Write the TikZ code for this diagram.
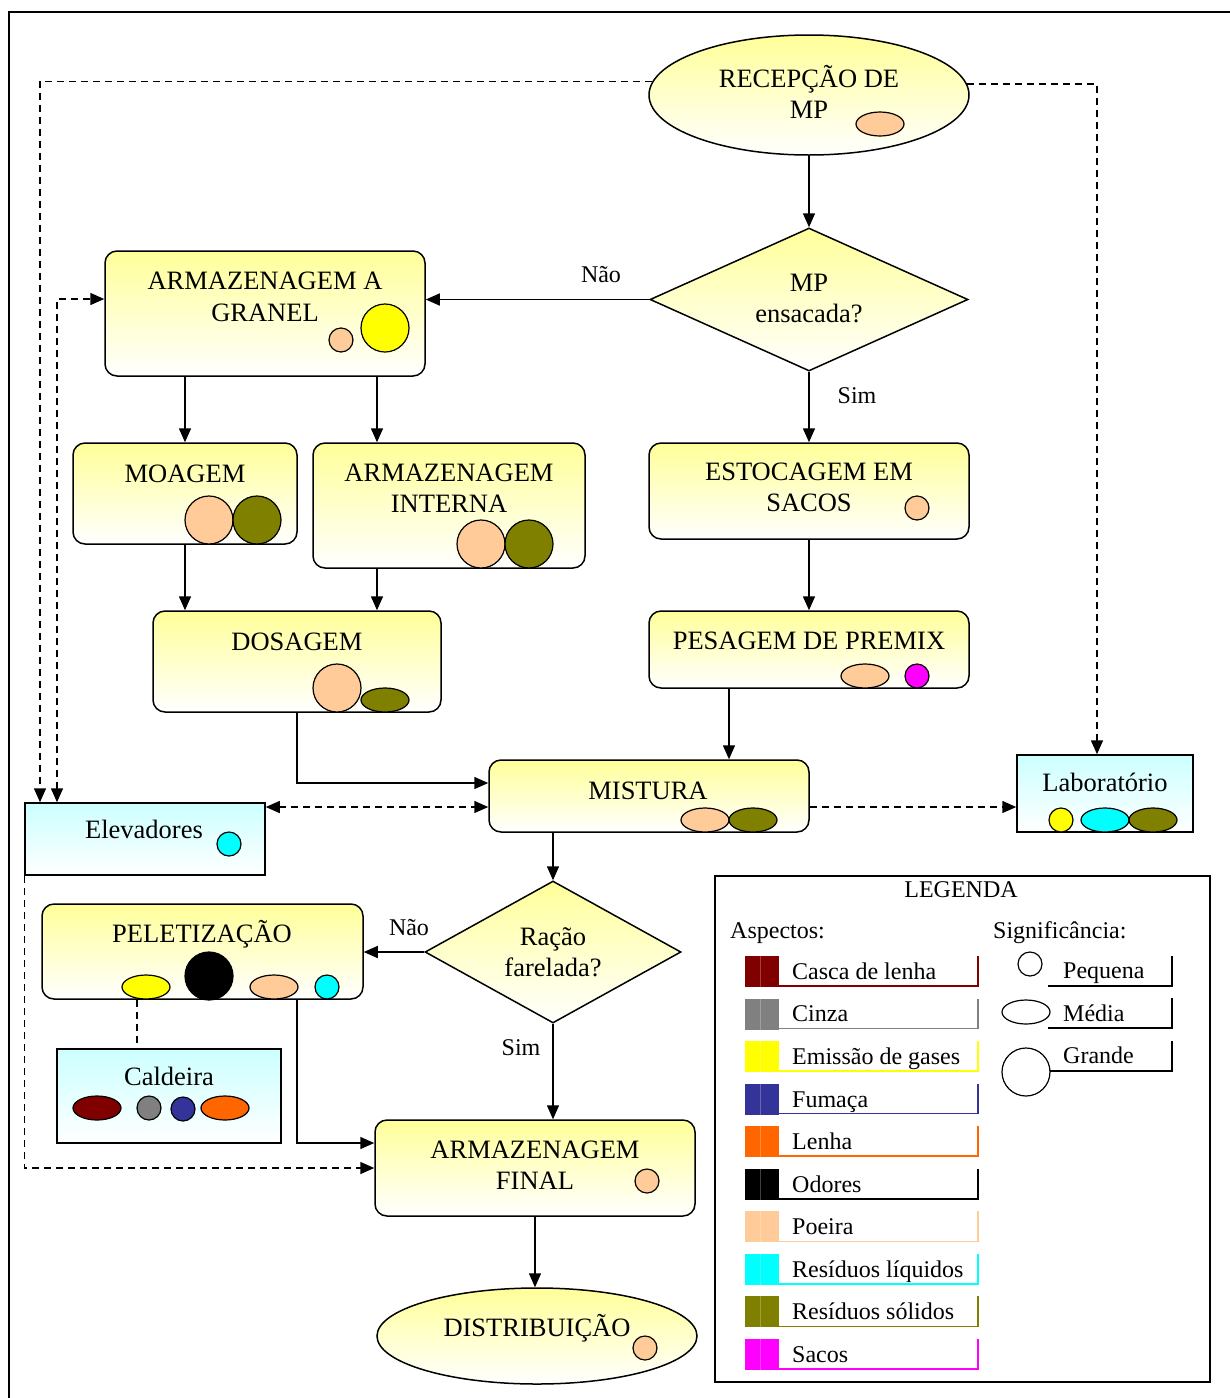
\documentclass[tikz,border=0pt]{standalone}
\usepackage{fontspec}
\setmainfont{Liberation Serif}
\usetikzlibrary{arrows.meta,shapes.geometric,calc}
\definecolor{yfill}{HTML}{FFFF99}
\definecolor{cfill}{HTML}{CCFFFF}
\definecolor{poeira}{HTML}{FFCC99}
\definecolor{olive2}{HTML}{808000}
\definecolor{casca}{HTML}{800000}
\definecolor{cinza}{HTML}{808080}
\definecolor{fumaca}{HTML}{333399}
\definecolor{lenha}{HTML}{FF6600}
\definecolor{aqua}{HTML}{00FFFF}
\definecolor{mag}{HTML}{FF00FF}
\definecolor{gas}{HTML}{FFFF00}
\begin{document}
\begin{tikzpicture}[x=1pt,y=-1pt,
  ln/.style={line width=1.5pt},
  arr/.style={ln,-{Triangle[length=14pt,width=12pt]}},
  darr/.style={ln,{Triangle[length=14pt,width=12pt]}-{Triangle[length=14pt,width=12pt]}},
  dsh/.style={dash pattern=on 7pt off 5pt},
  ybox/.style={draw,ln,rounded corners=12pt,top color=yfill,bottom color=white,inner sep=0pt},
  cbox/.style={draw,ln,top color=cfill,bottom color=white,inner sep=0pt},
  yell/.style={draw,ln,ellipse,top color=yfill,bottom color=white,inner sep=0pt},
  ydia/.style={draw,ln,diamond,top color=yfill,bottom color=white,inner sep=0pt},
  txt/.style={font=\fontsize{26.5}{31.5}\selectfont,align=center,inner sep=0pt,execute at begin node=\strut},
  stxt/.style={font=\fontsize{24}{28}\selectfont,inner sep=0pt,execute at begin node=\strut},
  mk/.style={draw,line width=1.2pt,inner sep=0pt},
  sml/.style={mk,circle,minimum size=24pt},
  med/.style={mk,ellipse,minimum width=48pt,minimum height=24pt},
  big/.style={mk,circle,minimum size=48pt}
]
\useasboundingbox (0,0) rectangle (1230,1398);
\draw[ln] (1230,12) -- (9,12) -- (9,1398);

% ---- process nodes ----
\node[yell,minimum width=320pt,minimum height=120pt] (recep) at (809,95) {};
\node[txt] (recepT) at (809,96.5) {RECEPÇÃO DE\\\strut MP};
\node[med,fill=poeira] (m1) at (880,124) {};

\node[ydia,minimum width=318pt,minimum height=143pt] (q1) at (809,299.5) {};
\node[txt] (q1T) at (809,303) {MP\\\strut ensacada?};

\node[ybox,minimum width=320pt,minimum height=125pt] (granel) at (265,313.5) {};
\node[txt] (granelT) at (265,301.5) {ARMAZENAGEM A\\\strut GRANEL};
\node[sml,fill=poeira] (m2) at (341,340) {};
\node[big,fill=gas] (m3) at (385,328) {};

\node[ybox,minimum width=224pt,minimum height=101pt] (moag) at (185,493.5) {};
\node[txt] (moagT) at (185,476.5) {MOAGEM};
\node[big,fill=poeira] (m4) at (209,520) {};
\node[big,fill=olive2] (m5) at (257,520) {};

\node[ybox,minimum width=272pt,minimum height=125pt] (inter) at (449,505.5) {};
\node[txt] (interT) at (449,493) {ARMAZENAGEM\\\strut INTERNA};
\node[big,fill=poeira] (m6) at (481,544) {};
\node[big,fill=olive2] (m7) at (529,544) {};

\node[ybox,minimum width=320pt,minimum height=96pt] (est) at (809,491) {};
\node[txt] (estT) at (809,492) {ESTOCAGEM EM\\\strut SACOS};
\node[sml,fill=poeira] (m8) at (917,508) {};

\node[ybox,minimum width=288pt,minimum height=101pt] (dos) at (297,661.5) {};
\node[txt] (dosT) at (297,644.5) {DOSAGEM};
\node[big,fill=poeira] (m9) at (337,688) {};
\node[med,fill=olive2] (m10) at (385,700) {};

\node[ybox,minimum width=320pt,minimum height=77pt] (pes) at (809,649.5) {};
\node[txt] (pesT) at (809,643.5) {PESAGEM DE PREMIX};
\node[med,fill=poeira] (m11) at (865,676) {};
\node[sml,fill=mag] (m12) at (917,676) {};

\node[ybox,minimum width=320pt,minimum height=72pt] (mist) at (649,796) {};
\node[txt] (mistT) at (648,793.5) {MISTURA};
\node[med,fill=poeira] (m13) at (705,820) {};
\node[med,fill=olive2] (m14) at (753,820) {};

\node[cbox,minimum width=240pt,minimum height=72pt] (elev) at (145,839) {};
\node[txt] (elevT) at (144,832.5) {Elevadores};
\node[sml,fill=aqua] (m15) at (229,844) {};

\node[cbox,minimum width=176pt,minimum height=77pt] (lab) at (1105,793.5) {};
\node[txt] (labT) at (1105,785) {Laboratório};
\node[sml,fill=gas] (m16) at (1061,820) {};
\node[med,fill=aqua] (m17) at (1105,820) {};
\node[med,fill=olive2] (m18) at (1153,820) {};

\node[ydia,minimum width=256pt,minimum height=142pt] (q2) at (553,952) {};
\node[txt] (q2T) at (553,957) {Ração\\\strut farelada?};

\node[ybox,minimum width=321pt,minimum height=95pt] (pel) at (202.5,951.5) {};
\node[txt] (pelT) at (202,936.5) {PELETIZAÇÃO};
\node[med,fill=gas] (m19) at (146,987) {};
\node[big,fill=black] (m20) at (209,976) {};
\node[med,fill=poeira] (m21) at (274,987) {};
\node[sml,fill=aqua] (m22) at (327,987) {};

\node[cbox,minimum width=224pt,minimum height=94pt] (cald) at (169,1096) {};
\node[txt] (caldT) at (169,1079) {Caldeira};
\node[med,fill=casca] (m23) at (97,1108) {};
\node[sml,fill=cinza] (m24) at (149,1108) {};
\node[sml,fill=fumaca] (m25) at (183,1109) {};
\node[med,fill=lenha] (m26) at (225,1108) {};

\node[ybox,minimum width=320pt,minimum height=96pt] (final) at (535,1168) {};
\node[txt] (finalT) at (535,1170) {ARMAZENAGEM\\\strut FINAL};
\node[sml,fill=poeira] (m27) at (647,1181) {};

\node[yell,minimum width=320pt,minimum height=96pt] (dist) at (537,1336) {};
\node[txt] (distT) at (537,1330.5) {DISTRIBUIÇÃO};
\node[sml,fill=poeira] (m28) at (645,1348) {};

% ---- labels ----
\node[stxt] (l1) at (601,277.3) {Não};
\node[stxt] (l2) at (857,398.3) {Sim};
\node[stxt] (l3) at (409,930.3) {Não};
\node[stxt] (l4) at (521,1050.3) {Sim};

% ---- helper coordinates ----
\coordinate (xL1) at (40,0);
\coordinate (xL2) at (57,0);
\coordinate (xR) at (1097,0);
\coordinate (yG) at (0,299);
\coordinate (yM) at (0,807);
\coordinate (yD) at (0,783);
\coordinate (xI) at (377,0);
\coordinate (xP) at (729,0);
\coordinate (xQ) at (553,0);
\coordinate (xC) at (137,0);
\coordinate (xF) at (297,0);
\coordinate (yF) at (0,1143);

% ---- solid connectors ----
\draw[arr] (recep.south) -- (q1.north);
\draw[arr] (q1.west) -- (granel.east |- q1.west);
\draw[arr] (q1.south) -- (est.north);
\draw[arr] (moag.north |- granel.south) -- (moag.north);
\draw[arr] (xI |- granel.south) -- (xI |- inter.north);
\draw[arr] (moag.south) -- (moag.south |- dos.north);
\draw[arr] (xI |- inter.south) -- (xI |- dos.north);
\draw[arr] (dos.south) |- (mist.west |- yD);
\draw[arr] (est.south) -- (pes.north);
\draw[arr] (xP |- pes.south) -- (xP |- mist.north);
\draw[arr] (xQ |- mist.south) -- (q2.north);
\draw[arr] (q2.west) -- (pel.east |- q2.west);
\draw[arr] (q2.south) -- (q2.south |- final.north);
\draw[arr] (xF |- pel.south) |- (final.west |- yF);
\draw[arr] (final.south) -- (final.south |- dist.north);

% ---- dashed connectors ----
\draw[arr,dsh] (recep.175.6) -| (xL1 |- elev.north);
\draw[arr,dsh] (recep.4.4) -| (xR |- lab.north);
\draw[darr,dsh] (xL2 |- elev.north) |- (granel.west |- yG);
\draw[darr,dsh] (elev.east |- yM) -- (mist.west |- yM);
\draw[arr,dsh] (mist.east |- yM) -- (lab.west |- yM);
\draw[arr,dsh] (elev.south west) |- (final.west);
\draw[ln,dsh] (xC |- pel.south) -- (xC |- cald.north);

% ---- legend ----
\node[draw,line width=1.8pt,minimum width=495pt,minimum height=506pt,inner sep=0pt] (leg) at (962.5,1129) {};
\node[stxt] (legT) at (961,892.3) {LEGENDA};
\node[stxt,anchor=west] (aspT) at (730,933.3) {Aspectos:};
\node[stxt,anchor=west] (sigT) at (993,933.3) {Significância:};
\foreach \i/\c/\t in {0/casca/Casca de lenha,1/cinza/Cinza,2/gas/Emissão de gases,3/fumaca/Fumaça,4/lenha/Lenha,5/black/Odores,6/poeira/Poeira,7/aqua/Resíduos líquidos,8/olive2/Resíduos sólidos,9/mag/Sacos}{
  \pgfmathsetmacro\yy{971.5+42.55*\i}
  \fill[\c] (745,{\yy-15.5}) rectangle (779,{\yy+15.5});
  \draw[white,opacity=0.25,line width=0.6pt] (760,{\yy-15.5}) -- (760,{\yy+15.5});
  \draw[\c,line width=1.6pt] (779,{\yy+14.5}) -| (978,{\yy-15.5});
  \node[stxt,anchor=west] (leg\i) at (792,{\yy+2.3}) {\t};
}
\node[sml,fill=white] (sp) at (1030,964) {};
\draw[ln] (1048,986) -| (1172,956);
\node[stxt,anchor=west] (spT) at (1063,973.3) {Pequena};
\node[med,fill=white] (sm) at (1026,1012) {};
\draw[ln] (1048,1028) -| (1172,998);
\node[stxt,anchor=west] (smT) at (1063,1016.3) {Média};
\node[big,fill=white] (sg) at (1026,1072) {};
\draw[ln] (1050,1071) -| (1172,1041);
\node[stxt,anchor=west] (sgT) at (1063,1058.3) {Grande};
\end{tikzpicture}
\end{document}
